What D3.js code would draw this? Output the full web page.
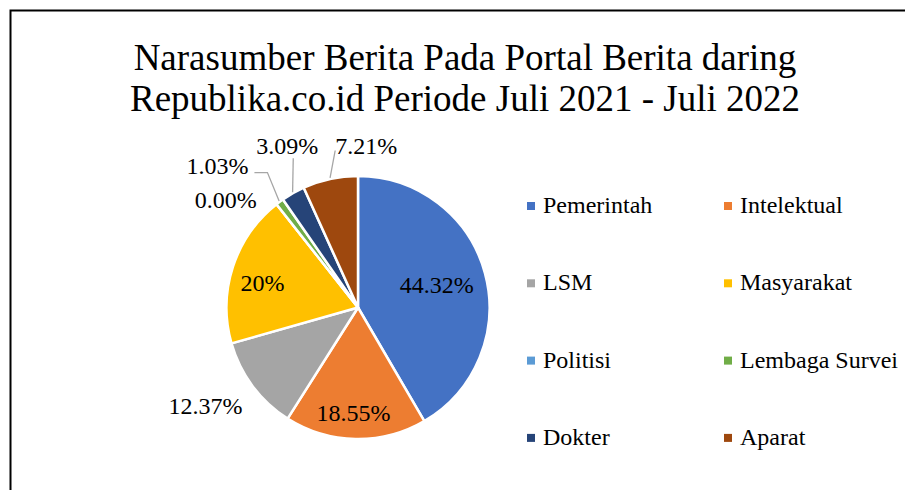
<!DOCTYPE html>
<html>
<head>
<meta charset="utf-8">
<script src="https://cdn.jsdelivr.net/npm/d3@7/dist/d3.min.js"></script>
<style>
  body { margin: 0; background: #fff; }
  svg text { font-family: "Liberation Serif", serif; }
</style>
</head>
<body>
<svg id="chart"></svg>
<script>
const categories = ['Pemerintah', 'Intelektual', 'LSM', 'Masyarakat', 'Politisi', 'Lembaga Survei', 'Dokter', 'Aparat'];
const values = [44.32, 18.55, 12.37, 20, 0, 1.03, 3.09, 7.21];
const valueLabels = ['44.32%', '18.55%', '12.37%', '20%', '0.00%', '1.03%', '3.09%', '7.21%'];
const colors = ['#4472C4', '#ED7D31', '#A5A5A5', '#FFC000', '#5B9BD5', '#70AD47', '#264478', '#9E480E'];
const titleLines = ['Narasumber Berita Pada Portal Berita daring', 'Republika.co.id Periode Juli 2021 - Juli 2022'];

const FONT = '"Liberation Serif", serif';

// label placement: inside/outside ring + nudge, leader line end relative to label
const labelPlace = [
  { out: false, dx: 0, dy: -1 },
  { out: false, dx: -3, dy: 24 },
  { out: true, dx: -28, dy: 5 },
  { out: false, dx: -18, dy: 0 },
  { out: true, dx: -36, dy: 14 },
  { out: true, dx: -48, dy: -17, leader: [[37, 7], [50, 7]] },
  { out: true, dx: 6, dy: -26, leader: [[6, 12]] },
  { out: true, dx: 41, dy: -10, leader: [[-31, 5]] }
];

const W = 905, H = 490;
const svg = d3.select('#chart').attr('width', W).attr('height', H);

// chart frame (runs off the right and bottom of the picture)
svg.append('rect')
  .attr('x', 10.5).attr('y', 10.5)
  .attr('width', W + 20).attr('height', H + 20)
  .attr('fill', '#fff')
  .attr('stroke', '#000')
  .attr('stroke-width', 2);

svg.append('g')
  .selectAll('text')
  .data(titleLines)
  .join('text')
  .attr('x', 465)
  .attr('y', (d, i) => 70 + i * 41)
  .attr('text-anchor', 'middle')
  .attr('font-family', FONT)
  .attr('font-size', 37)
  .attr('fill', '#000')
  .text(d => d);

const cx = 358, cy = 307.5, R = 131.5;
const data = categories.map((c, i) => ({ name: c, value: values[i], label: valueLabels[i], color: colors[i] }));

const pie = d3.pie().sort(null).value(d => d.value);
const arcs = pie(data);

const arc = d3.arc().innerRadius(0).outerRadius(R);
const inArc = d3.arc().innerRadius(R * 0.62).outerRadius(R * 0.62);
const outArc = d3.arc().innerRadius(R + 24).outerRadius(R + 24);
const edgeArc = d3.arc().innerRadius(R + 1).outerRadius(R + 1);

const g = svg.append('g').attr('transform', `translate(${cx},${cy})`);

g.selectAll('path.slice')
  .data(arcs)
  .join('path')
  .attr('class', 'slice')
  .attr('d', arc)
  .attr('fill', d => d.data.color)
  .attr('stroke', '#fff')
  .attr('stroke-width', 2.5)
  .attr('stroke-linejoin', 'round');

const labelPos = arcs.map((d, i) => {
  const p = labelPlace[i];
  const c = (p.out ? outArc : inArc).centroid(d);
  return [c[0] + p.dx, c[1] + p.dy];
});

// leader lines
arcs.forEach((d, i) => {
  const p = labelPlace[i];
  if (!p.leader) return;
  const pts = p.leader.slice().reverse().map(o => [labelPos[i][0] + o[0], labelPos[i][1] + o[1]]);
  pts.unshift(edgeArc.centroid(d));
  g.append('path')
    .attr('d', d3.line()(pts))
    .attr('fill', 'none')
    .attr('stroke', '#A6A6A6')
    .attr('stroke-width', 1.3);
});

g.selectAll('text.lbl')
  .data(arcs)
  .join('text')
  .attr('class', 'lbl')
  .attr('x', (d, i) => labelPos[i][0])
  .attr('y', (d, i) => labelPos[i][1])
  .attr('dy', '0.34em')
  .attr('text-anchor', 'middle')
  .attr('font-family', FONT)
  .attr('font-size', 24)
  .attr('fill', '#000')
  .text(d => d.data.label);

// legend, two columns
const legend = svg.append('g');
const item = legend.selectAll('g')
  .data(data)
  .join('g')
  .attr('transform', (d, i) => `translate(${527 + (i % 2) * 197},${213 + Math.floor(i / 2) * 77.3})`);

item.append('rect')
  .attr('x', 0).attr('y', -11)
  .attr('width', 8).attr('height', 8)
  .attr('fill', d => d.color);

item.append('text')
  .attr('x', 16)
  .attr('y', 0)
  .attr('font-family', FONT)
  .attr('font-size', 24)
  .attr('fill', '#000')
  .text(d => d.name);
</script>
</body>
</html>
